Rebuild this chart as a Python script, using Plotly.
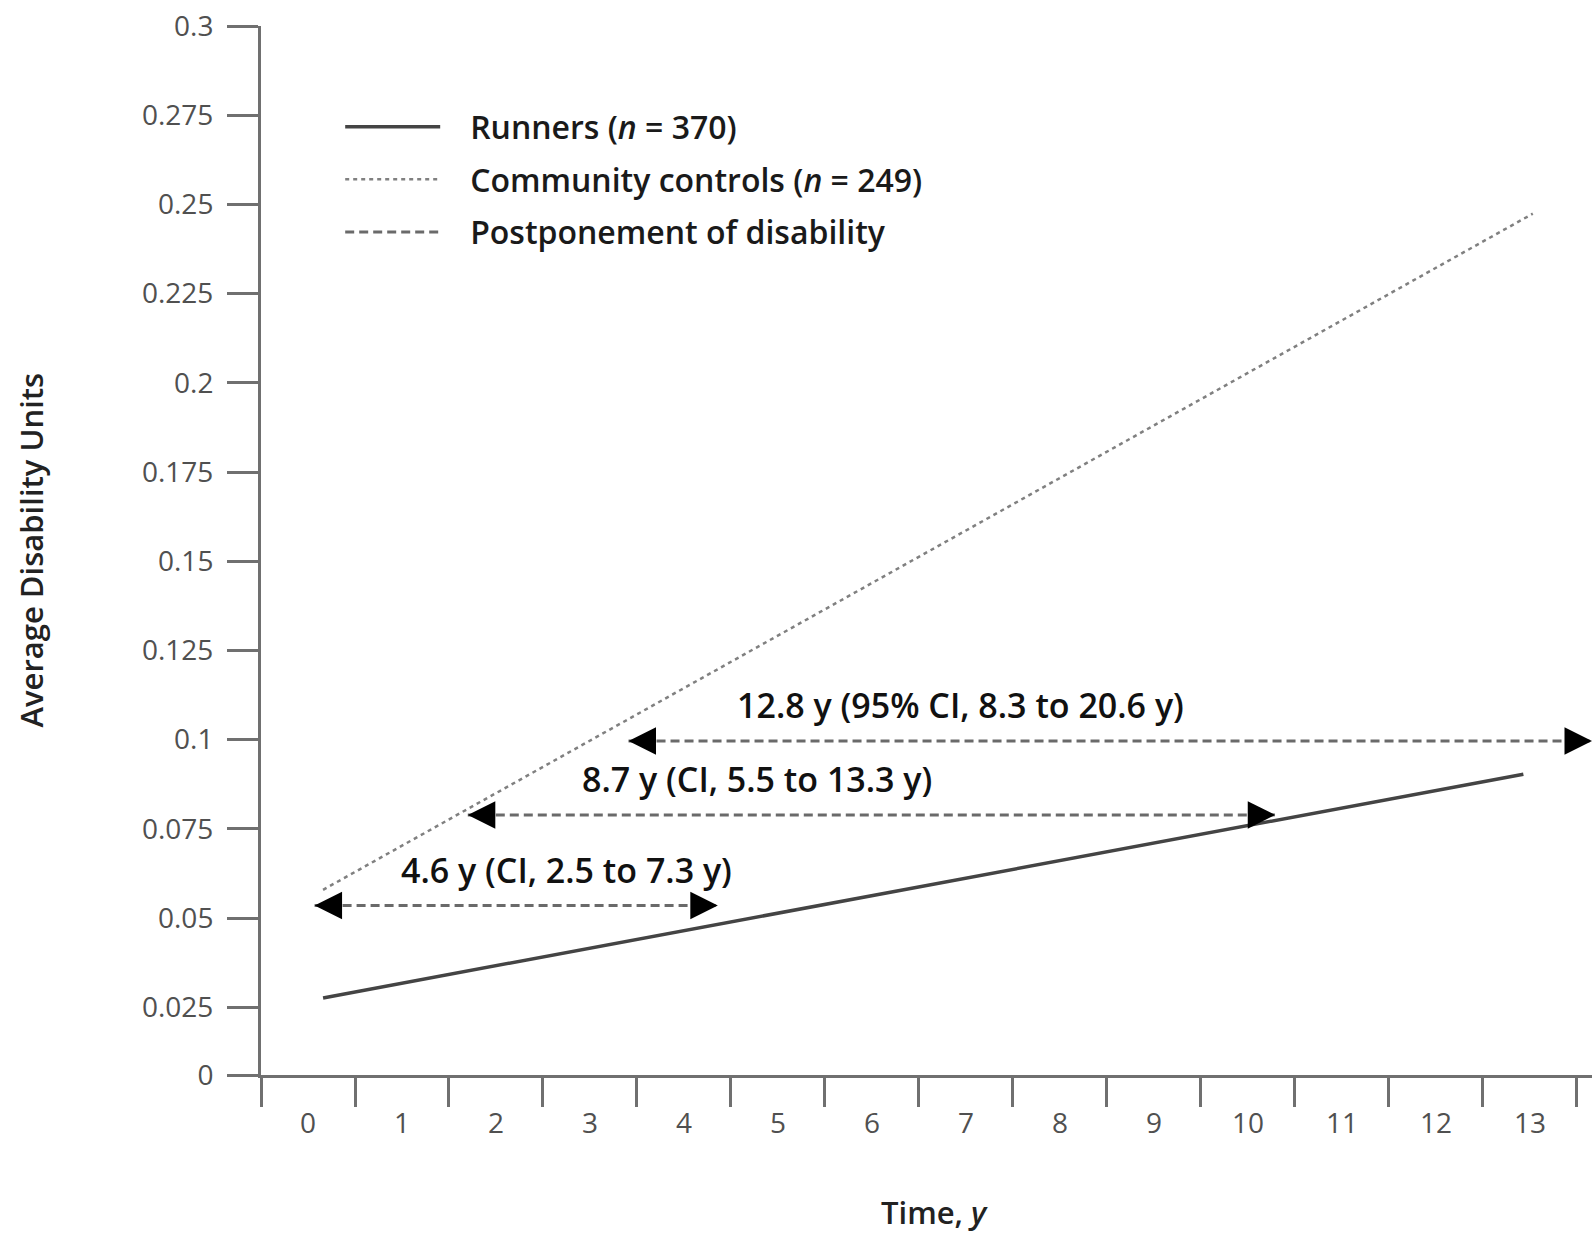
import plotly.graph_objects as go

# ---------------- data ----------------
X_TICK_LABELS = [str(i) for i in range(14)]          # Time, y
X_TICK_VALUES = list(range(14))
X_BIN_EDGES = [i - 0.5 for i in range(15)]             # tick marks sit between labels

Y_TICK_VALUES = [0.025, 0.05, 0.075, 0.1, 0.125, 0.15, 0.175, 0.2,
                 0.225, 0.25, 0.275, 0.3]
Y_TICK_LABELS = ["0.025", "0.05", "0.075", "0.1", "0.125", "0.15", "0.175",
                 "0.2", "0.225", "0.25", "0.275", "0.3"]
# the reference axis is broken below 0.025: its "0" sits closer than a full step
Y_AXIS_ORIGIN = 0.006
Y_ORIGIN_LABEL = "0"

RUNNERS_X = [0.16, 12.93]
RUNNERS_Y = [0.0276, 0.0903]
CONTROLS_X = [0.16, 13.03]
CONTROLS_Y = [0.0579, 0.2474]

ARROW_Y = [0.0535, 0.0789, 0.0996]
ARROW_X_START = [0.07, 1.70, 3.41]
ARROW_X_END = [4.36, 10.29, 13.66]
ARROW_LABEL_X = [2.75, 4.78, 6.94]
ARROW_LABELS = ["4.6 y (CI, 2.5 to 7.3 y)",
                "8.7 y (CI, 5.5 to 13.3 y)",
                "12.8 y (95% CI, 8.3 to 20.6 y)"]

SERIES_NAMES = ["Runners (<i>n</i> = 370)",
                "Community controls (<i>n</i> = 249)",
                "Postponement of disability"]

# ---------------- styling ----------------
AXIS_COLOR = "#707070"
FONT = "Open Sans, Arial, sans-serif"
PAD = "&nbsp;&nbsp;&nbsp;"

fig = go.Figure()

fig.add_trace(go.Scatter(
    x=RUNNERS_X, y=RUNNERS_Y, mode="lines", name=PAD + SERIES_NAMES[0],
    legendgroup="runners", line=dict(color="#444444", width=3.5),
    hoverinfo="skip"))

fig.add_trace(go.Scatter(
    x=CONTROLS_X, y=CONTROLS_Y, mode="lines", name=PAD + SERIES_NAMES[1],
    legendgroup="controls", line=dict(color="#808080", width=2.5, dash="4px,4px"),
    hoverinfo="skip"))

for i, (x0, x1, yv) in enumerate(zip(ARROW_X_START, ARROW_X_END, ARROW_Y)):
    fig.add_trace(go.Scatter(
        x=[x0, x1], y=[yv, yv], mode="lines", name=PAD + SERIES_NAMES[2],
        legendgroup="post", showlegend=(i == 0),
        line=dict(color="#6a6a6a", width=3, dash="9px,5px"),
        hoverinfo="skip"))

annotations = []
for x0, x1, yv, lx, txt in zip(ARROW_X_START, ARROW_X_END, ARROW_Y,
                               ARROW_LABEL_X, ARROW_LABELS):
    for tip, tail in ((x0, 24), (x1, -24)):
        annotations.append(dict(
            x=tip, y=yv, xref="x", yref="y", text="", showarrow=True,
            ax=tail, ay=0, arrowhead=2, arrowsize=11, arrowwidth=0.5,
            arrowcolor="#000000"))
    annotations.append(dict(
        x=lx, y=yv, xref="x", yref="y", text=txt,
        showarrow=False, yshift=36, xanchor="center", yanchor="middle",
        font=dict(family=FONT, size=34, color="#111111", weight=600)))

# axis titles
annotations.append(dict(
    x=0, y=0.5, xref="paper", yref="paper", text="Average Disability Units",
    textangle=-90, showarrow=False, xanchor="center", yanchor="middle",
    xshift=-231, font=dict(family=FONT, size=31, color="#222222", weight=600)))
annotations.append(dict(
    x=0.5, y=0, xref="paper", yref="paper", text="Time, <i>y</i>",
    showarrow=False, xanchor="center", yanchor="middle",
    xshift=8, yshift=-137, font=dict(family=FONT, size=31, color="#222222", weight=600)))

fig.update_layout(
    width=1594, height=1233,
    margin=dict(l=261, r=2, t=26, b=158),
    paper_bgcolor="white", plot_bgcolor="white",
    font=dict(family=FONT, color="#333333"),
    showlegend=True,
    legend=dict(
        x=0.0595, y=0.930, xanchor="left", yanchor="top",
        bgcolor="rgba(0,0,0,0)", borderwidth=0,
        font=dict(family=FONT, size=32, color="#1a1a1a", weight=600),
        itemwidth=95, traceorder="grouped", tracegroupgap=8),
    annotations=annotations,
    xaxis=dict(
        range=[-0.5, 13.66], tickmode="array", tickvals=X_TICK_VALUES,
        ticktext=X_TICK_LABELS, ticks="", showgrid=False, zeroline=False,
        showline=True, linecolor=AXIS_COLOR, linewidth=3,
        tickfont=dict(family=FONT, size=28, color="#505050"),
        ticklabelstandoff=21,
        minor=dict(tickvals=X_BIN_EDGES, ticks="outside", ticklen=29,
                   tickwidth=3, tickcolor=AXIS_COLOR, showgrid=False)),
    yaxis=dict(
        range=[Y_AXIS_ORIGIN, 0.3], tickmode="array",
        tickvals=[Y_AXIS_ORIGIN] + Y_TICK_VALUES,
        ticktext=[Y_ORIGIN_LABEL] + Y_TICK_LABELS,
        ticks="outside", ticklen=31, tickwidth=3, tickcolor=AXIS_COLOR,
        showgrid=False, zeroline=False, showline=True,
        linecolor=AXIS_COLOR, linewidth=3,
        tickfont=dict(family=FONT, size=28, color="#505050"),
        ticklabelstandoff=8),
)

fig.write_html("out.html", config={"displayModeBar": False},
               post_script="document.body.style.margin='0';document.body.style.overflow='hidden';")
